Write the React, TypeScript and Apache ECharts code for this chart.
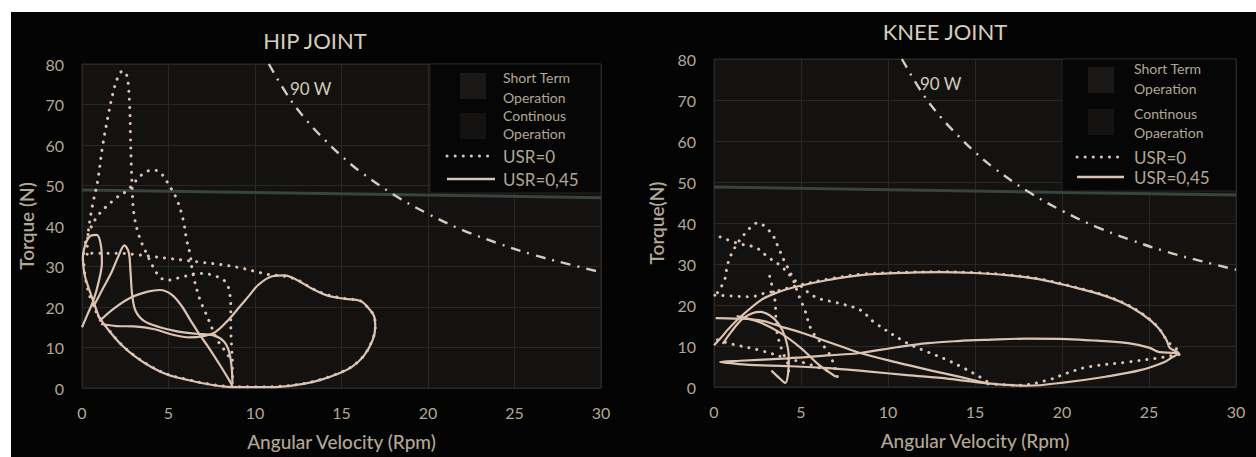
import React, { useEffect, useRef } from "react";
import * as echarts from "echarts";

// ---------- data ----------
const xMin = 0, xMax = 30, xInterval = 5;
const yMin = 0, yMax = 80, yInterval = 10;

const titles = ["HIP JOINT", "KNEE JOINT"];
const yNames = ["Torque (N)", "Torque(N)"];
const xName = "Angular Velocity (Rpm)";
const legendLabels = [
  ["Short Term", "Operation", "Continous", "Operation", "USR=0", "USR=0,45"],
  ["Short Term", "Operation", "Continous", "Opaeration", "USR=0", "USR=0,45"],
];
const powerLabel = "90 W";

// 90 W constant-power curve
const powerX = [10.8, 12, 13, 14, 15, 16, 18, 20, 22, 24, 26, 28, 30];
const powerY = [80, 71.5, 66, 61.4, 57.3, 53.7, 47.8, 43, 39, 35.8, 33, 30.7, 28.6];

// continuous operation limit
const limitHip = [[0, 48.9], [30, 47]];
const limitKnee = [[0, 48.8], [30, 46.8]];

// HIP, USR=0,45 (solid)
const hipSolidA = [[0,15],[0.3,18],[0.65,21.5],[0.95,26],[1.15,31],[1.1,35],[0.85,37.8],[0.5,37.6],[0.2,35.5],[0.05,32],[0.15,28],[0.4,24.5],[0.65,21.5],[0.9,18.5],[1.1,16.5]];
const hipSolidB = [[0.65,20],[1.2,24.5],[1.7,28.5],[2.1,32.5],[2.45,35.2],[2.7,33.5],[2.8,29],[2.9,23],[3.1,19],[3.6,16.5],[4.5,15],[5.5,14],[6.6,13.4],[7.6,13],[8.2,11.5],[8.5,9],[8.65,5],[8.7,1]];
const hipSolidC = [[1.0,16.5],[1.8,19.5],[2.8,22.3],[3.8,23.8],[4.5,24.2],[5.2,23],[5.8,20],[6.3,16.5],[6.8,13.2],[7.4,9.5],[8,5.5],[8.5,2],[8.7,0.5]];
const hipSolidD = [[0.9,18],[1.5,14.5],[2.2,11],[3,8],[4,5.2],[5,3.2],[6.1,2],[7.2,1],[8.4,0.3],[10,0.2],[11.4,0.3],[12.8,1],[13.8,2],[14.8,3.5],[15.6,5.2],[16.3,8],[16.8,11.8],[16.95,15],[16.9,17.5],[16.5,20],[16.1,21.5],[15.2,22],[14.2,22.8],[13.3,24.5],[12.5,26.5],[11.7,27.8],[11,27.6],[10.2,25.5],[9.6,22.5],[9.1,20],[8.5,17],[7.7,13.8],[7,12.8],[6.2,12.5],[5.2,13.2],[4.2,14.5],[3,15.2],[2,15.3],[1.1,15.8]];

// HIP, USR=0 (dotted)
const hipDotA = [[0.3,33],[0.35,38],[0.6,45],[0.9,51],[1.2,60],[1.5,67],[1.8,73],[2.1,77],[2.35,78.3],[2.6,77],[2.75,70],[2.8,62],[2.85,55],[2.9,49],[3.0,43],[3.3,37.5],[3.7,33.5],[4.1,30],[4.5,27.4],[4.9,26.6],[5.7,27.3],[6.8,28.3],[7.6,27.8],[8.3,26.2],[8.55,23],[8.6,19],[8.6,15],[8.65,10],[8.7,5],[8.7,1]];
const hipDotB = [[0.2,36],[0.5,39.5],[1.0,43],[2.0,47],[2.6,48.7],[3.0,50.6],[3.5,52.8],[4.05,53.8],[4.5,53.3],[5.1,49.6],[5.5,46.4],[5.85,41.5],[6.05,36.5],[6.25,33],[6.4,28.4],[6.8,22],[7.1,19],[7.4,16],[7.8,12],[8.3,9],[8.6,7]];
const hipDotC = [[0.1,33.2],[1,33.3],[2,33.3],[3,33],[4,32.5],[5,32],[6,31.5],[7,31],[8,30.5],[9,29.8],[10,28.8],[10.8,28],[11.7,27.6],[12.5,26.6],[13.3,24.6],[14.2,23],[15.2,22.1],[16.1,21.5],[16.5,20],[16.9,17.5],[16.95,15],[16.8,12],[16.3,8],[15.6,5.3],[14.8,3.6],[13.8,2.1],[12.8,1.1],[11.4,0.4],[10,0.3],[8.4,0.4],[7.2,1.1],[6.1,2.1],[5,3.3],[4,5.3],[3,8.1],[2.2,11.1],[1.5,14.6],[0.9,18.2],[0.5,22],[0.2,27],[0.1,31]];

// KNEE, USR=0,45 (solid)
const kneeSolidA = [[0,10.2],[0.4,12],[0.8,14],[1.5,17],[2.7,21.2],[3.6,23],[4.65,24.4],[6.55,26.1],[8.45,27.3],[11.3,27.9],[13,28],[15,27.8],[16.8,27.3],[18.8,26.2],[20.6,24.4],[22.2,22.6],[23.5,20.5],[24.6,17.8],[25.5,14.6],[26,11.5],[26.2,9.5],[26.7,8.3],[26.3,7.2],[25.9,6.1],[24.5,4.1],[22.5,2.5],[20.3,1.2],[18,0.3],[15.7,0.9],[13.5,2],[11.1,2.9],[8.8,3.8],[6.6,4.6],[4.2,5.1],[2,5.4],[0.8,5.9],[0.35,6.1],[1.5,6.4],[4.2,7],[6.5,7.7],[8.4,8.3],[10.5,9.7],[12.3,10.7],[14,11.2],[15.7,11.5],[18,11.8],[20.3,11.7],[22,11.3],[23.8,10.7],[25,9.6],[25.6,8.5],[26.7,8.3]];
const kneeSolidB = [[0.1,16.8],[1.2,16.7],[2.6,16.3],[3.8,14.8],[5,13.3],[6.7,10.8],[8.4,8.3],[10.5,6],[12.5,4],[14.2,2.4],[15.8,0.8]];
const kneeSolidC = [[0.5,10.5],[1.0,13.5],[1.6,16.5],[2.2,18],[2.7,18.3],[3.2,17.5],[3.7,15.5],[4.1,12],[4.3,7],[4.25,3],[4.1,1],[3.8,2],[3.3,4]];
const kneeSolidD = [[1.3,17.3],[2.5,16],[3.7,13.5],[5,9.5],[6,5.5],[7,2.5]];

// KNEE, USR=0 (dotted)
const kneeDotA = [[0.05,22.4],[1,22.2],[2.1,22],[3,23],[3.6,23.4],[4.65,24.6],[6.55,26.3],[8.45,27.5],[11.3,28],[13,28.1],[15,27.9],[16.8,27.4],[18.8,26.3],[20.6,24.5],[22.2,22.7],[23.5,20.6],[24.6,17.9],[25.5,14.7],[26.1,11],[26.8,8.2],[26.2,7.6],[25.4,7],[23.8,6.1],[21.5,4.9],[20.3,3.4],[19.2,1.7],[17.5,0.4],[15.7,0.8]];
const kneeDotB = [[0.35,36.6],[1.4,35],[2.4,34],[3.1,31.7],[3.9,29.3],[4.65,26],[5.8,22],[7.1,20.5],[8.4,18.8],[9.2,15.8],[11.1,10.7],[12.3,8.5],[13.4,6.6],[14.4,4.5],[15.3,2.4],[15.8,1]];
const kneeDotC = [[0.2,23],[0.6,26],[0.8,30.2],[1.2,34],[1.8,37.5],[2.5,40],[3.3,37.5],[3.7,34],[4.1,30.2],[4.4,27.8],[4.9,22],[5.2,19],[5.6,13.9],[6.1,11],[6.6,8.3],[7,4.1],[7.1,2]];
const kneeDotD = [[3.2,27],[3.5,21.2],[3.6,13.9],[3.9,9],[4.25,5.4],[4.3,2]];
const kneeDotE = [[0.2,11.5],[1,10.5],[2.6,9],[4.2,7],[5.5,5.5],[6.8,3.5]];

const hipSolid = [hipSolidA, hipSolidB, hipSolidC, hipSolidD];
const hipDotted = [hipDotA, hipDotB, hipDotC];
const kneeSolid = [kneeSolidA, kneeSolidB, kneeSolidC, kneeSolidD];
const kneeDotted = [kneeDotA, kneeDotB, kneeDotC, kneeDotD, kneeDotE];

// ---------- styling ----------
const FONT = "Lato, 'Open Sans', sans-serif";
const CURVE = "#dcc3b2";
const TEXT = "#b3a795";
const TITLE = "#d6ccbc";
const GRIDLINE = "#2a2724";
const PLOTBG = "#141211";
const LIMIT = "#34463f";

const grids = [
  { left: 82, top: 64, width: 519, height: 324 },
  { left: 714, top: 59, width: 522, height: 328 },
];

export default function App() {
  const ref = useRef<HTMLDivElement>(null);
  useEffect(() => {
    if (!ref.current) return;
    const chart = echarts.init(ref.current, null, { renderer: "svg" });

    const series: any[] = [];
    const addSolid = (d: number[][], gi: number) =>
      series.push({
        type: "line", name: "USR=0,45", xAxisIndex: gi, yAxisIndex: gi, data: d,
        showSymbol: false, smooth: 0.35, silent: true, z: 4,
        lineStyle: { color: CURVE, width: 2.2 },
      });
    const addDotted = (d: number[][], gi: number) =>
      series.push({
        type: "line", name: "USR=0", xAxisIndex: gi, yAxisIndex: gi, data: d,
        showSymbol: false, smooth: 0.35, silent: true, z: 5,
        lineStyle: { color: CURVE, width: 3, type: [0.1, 8], cap: "round" },
      });
    hipSolid.forEach((d) => addSolid(d, 0));
    hipDotted.forEach((d) => addDotted(d, 0));
    kneeSolid.forEach((d) => addSolid(d, 1));
    kneeDotted.forEach((d) => addDotted(d, 1));
    [0, 1].forEach((gi) => {
      series.push({
        type: "line", name: powerLabel, xAxisIndex: gi, yAxisIndex: gi,
        data: powerX.map((x, i) => [x, powerY[i]]),
        showSymbol: false, smooth: 0.4, silent: true, z: 3,
        lineStyle: { color: "#d6cabb", width: 2.4, type: [10, 7, 2, 7] },
      });
      series.push({
        type: "line", name: "limit", xAxisIndex: gi, yAxisIndex: gi,
        data: gi === 0 ? limitHip : limitKnee,
        showSymbol: false, silent: true, z: 2,
        lineStyle: { color: LIMIT, width: 3 },
      });
    });

    const xAxis = grids.map((_, gi) => ({
      type: "value", gridIndex: gi, min: xMin, max: xMax, interval: xInterval,
      name: xName, nameLocation: "middle", nameGap: 44,
      nameTextStyle: { color: TEXT, fontSize: 19, fontFamily: FONT, fontWeight: 500 },
      axisLine: { show: false }, axisTick: { show: false },
      axisLabel: { color: TEXT, fontSize: 16, fontFamily: FONT, margin: 16 },
      splitLine: { show: true, lineStyle: { color: GRIDLINE, width: 1 } },
    }));
    const yAxis = grids.map((_, gi) => ({
      type: "value", gridIndex: gi, min: yMin, max: yMax, interval: yInterval,
      name: yNames[gi], nameLocation: "middle", nameGap: gi === 0 ? 46 : 48,
      nameTextStyle: { color: TEXT, fontSize: 19, fontFamily: FONT, fontWeight: 600 },
      axisLine: { show: false }, axisTick: { show: false },
      axisLabel: { color: TEXT, fontSize: 16, fontFamily: FONT, margin: 18 },
      splitLine: { show: true, lineStyle: { color: GRIDLINE, width: 1 } },
    }));

    const graphic: any[] = [];
    const legendBoxes = [
      { x: 430, y: 64, w: 171, h: 129, sw: 460, tx: 503, ys: [77, 97, 115, 133, 156, 179], sy: [73, 113], lx: [447, 495] },
      { x: 1062, y: 59, w: 174, h: 132, sw: 1088, tx: 1134, ys: [68, 88, 113, 132, 157, 177], sy: [67, 109], lx: [1077, 1124] },
    ];
    legendBoxes.forEach((b, gi) => {
      graphic.push({
        type: "rect", shape: { x: b.x, y: b.y, width: b.w, height: b.h }, z: 10,
        style: { fill: "#060606", stroke: "#262422", lineWidth: 1 },
      });
      b.sy.forEach((sy, k) =>
        graphic.push({
          type: "rect", z: 11, shape: { x: b.sw, y: sy, width: 26, height: 26 },
          style: { fill: k === 0 ? "#1b1918" : "#151312" },
        })
      );
      legendLabels[gi].forEach((t, k) =>
        graphic.push({
          type: "text", z: 11, x: b.tx, y: b.ys[k],
          style: {
            text: t, fill: TEXT, fontSize: k >= 4 ? 17 : 14, fontFamily: FONT,
            verticalAlign: "middle", align: "left",
          },
        })
      );
      graphic.push({
        type: "line", z: 11, shape: { x1: b.lx[0], y1: b.ys[4], x2: b.lx[1] - 2, y2: b.ys[4] },
        style: { stroke: CURVE, lineWidth: 3, lineDash: [0.1, 8], lineCap: "round" },
      });
      graphic.push({
        type: "line", z: 11, shape: { x1: b.lx[0], y1: b.ys[5], x2: b.lx[1], y2: b.ys[5] },
        style: { stroke: CURVE, lineWidth: 2.4 },
      });
    });
    graphic.push(
      { type: "text", x: 315, y: 40, z: 11, style: { text: titles[0], fill: TITLE, fontSize: 22, fontFamily: FONT, fontWeight: "normal", align: "center", verticalAlign: "middle" } },
      { type: "text", x: 945, y: 31, z: 11, style: { text: titles[1], fill: TITLE, fontSize: 22, fontFamily: FONT, fontWeight: "normal", align: "center", verticalAlign: "middle" } },
      { type: "text", x: 290, y: 88, z: 11, style: { text: powerLabel, fill: TITLE, fontSize: 17, fontFamily: FONT, verticalAlign: "middle" } },
      { type: "text", x: 920, y: 83, z: 11, style: { text: powerLabel, fill: TITLE, fontSize: 17, fontFamily: FONT, verticalAlign: "middle" } }
    );

    chart.setOption({
      animation: false,
      backgroundColor: "transparent",
      grid: grids.map((g) => ({
        ...g, show: true, backgroundColor: PLOTBG, borderColor: "#2a2826", borderWidth: 1,
      })),
      xAxis, yAxis, series, graphic,
    });
    return () => chart.dispose();
  }, []);

  return (
    <div style={{ position: "absolute", left: 0, top: 0, width: 1256, height: 457, background: "#ffffff", overflow: "hidden" }}>
      <div style={{ position: "absolute", left: 11, top: 12, width: 1245, height: 445, background: "#040404" }} />
      <div ref={ref} style={{ position: "absolute", left: 0, top: 0, width: 1256, height: 457 }} />
    </div>
  );
}
